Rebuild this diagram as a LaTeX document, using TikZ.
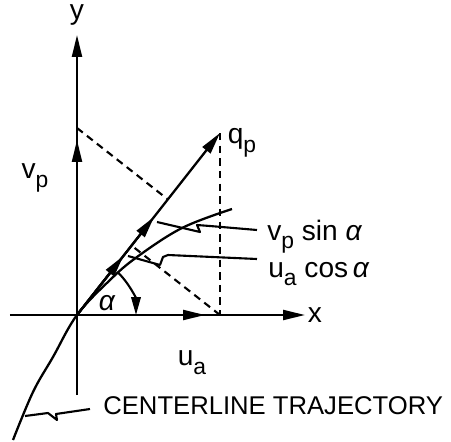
\documentclass[tikz,border=0pt]{standalone}
\usepackage{fontspec}
\setmainfont{Liberation Sans}
\usetikzlibrary{
  arrows.meta,
  calc,
}
\newcommand{\sub}[1]{\raisebox{-0.6ex}{\fontsize{13}{13}\selectfont #1}}
\newcommand{\alp}{{\itshape α}}

\begin{document}
\begin{tikzpicture}[x=0.02cm, y=0.02cm,
    ax/.style={line width=1.3pt},
    vec/.style={line width=1.3pt, -{Triangle[length=4.4mm, width=2mm]}},
    proj/.style={line width=1.2pt, dash pattern=on 4.2pt off 3pt},
    lead/.style={line width=1.2pt, line join=round},
    lbl/.style={font=\fontsize{16}{18}\selectfont, inner sep=0pt},
  ]
  \useasboundingbox (-77,-126) rectangle (374,315);
  % points
  \coordinate (O) at (0,0);
  \coordinate (xl) at (-67,0);
  \coordinate (xr) at (228,0);
  \coordinate (yb) at (0,-80);
  \coordinate (yt) at (0,280);
  \coordinate (V) at (0,187);
  \coordinate (Vt) at (0,175);
  \coordinate (U) at (143,0);
  \coordinate (Ut) at (128,0);
  \coordinate (Q) at (143,182);
  \coordinate (Vf) at ($(O)!(V)!(Q)$);
  \coordinate (Uf) at ($(O)!(U)!(Q)$);
  \coordinate (Vq) at ($(O)!0.54!(Q)$);
  \coordinate (Uq) at ($(O)!0.325!(Q)$);
  % projections
  \draw[proj] (V) -- (Vf);
  \draw[proj] (U) -- (Uf);
  \draw[proj] (Q) -- (U);
  % axes
  \draw[vec] (xl) -- (xr);
  \draw[vec] (yb) -- (yt);
  \draw[vec] (O) -- (Ut);
  \draw[vec] (O) -- (Vt);
  % velocity along the trajectory
  \draw[vec] (O) -- (Q);
  \draw[vec] (O) -- (Vq);
  \draw[vec] (O) -- (Uq);
  % centerline trajectory
  \draw[ax] plot[smooth, tension=0.6] coordinates
    {(-64,-125) (-44,-77) (-24,-42) (0,0) (33,35) (60,58) (105,87) (155,106)};
  % angle
  \draw[line width=1.2pt, -{Triangle[length=3.6mm, width=1.9mm]}]
    (47:59) arc (47:0:59);
  % leaders
  \draw[lead] (80,93) -- (123,83) -- (120,90) -- (133,89) -- (180,85);
  \draw[lead] (51,59) -- (83,50) -- (86,58) -- (91,60) -- (180,56);
  \draw[lead] (-52,-101) -- (-29,-98) -- (-20,-105) -- (-21,-99) -- (13,-94);
  % labels
  \node[lbl] (ylab) at (0,300) {y};
  \node[lbl] (xlab) at (238,0) {x};
  \node[lbl] (vlab) at (-42,137) {v\sub{p}};
  \node[lbl] (qlab) at (165,172) {q\sub{p}};
  \node[lbl] (ulab) at (115,-48) {u\sub{a}};
  \node[lbl] (alab) at (30,12) {\alp};
  \node[lbl, anchor=base west] (vsin) at (190,75) {v\sub{p} sin \alp};
  \node[lbl, anchor=base west] (ucos) at (191,38) {u\sub{a} cos\,\alp};
  \node[lbl, anchor=west, font=\fontsize{14.6}{16}\selectfont] (traj) at (26,-91)
    {CENTERLINE TRAJECTORY};
\end{tikzpicture}
\end{document}
